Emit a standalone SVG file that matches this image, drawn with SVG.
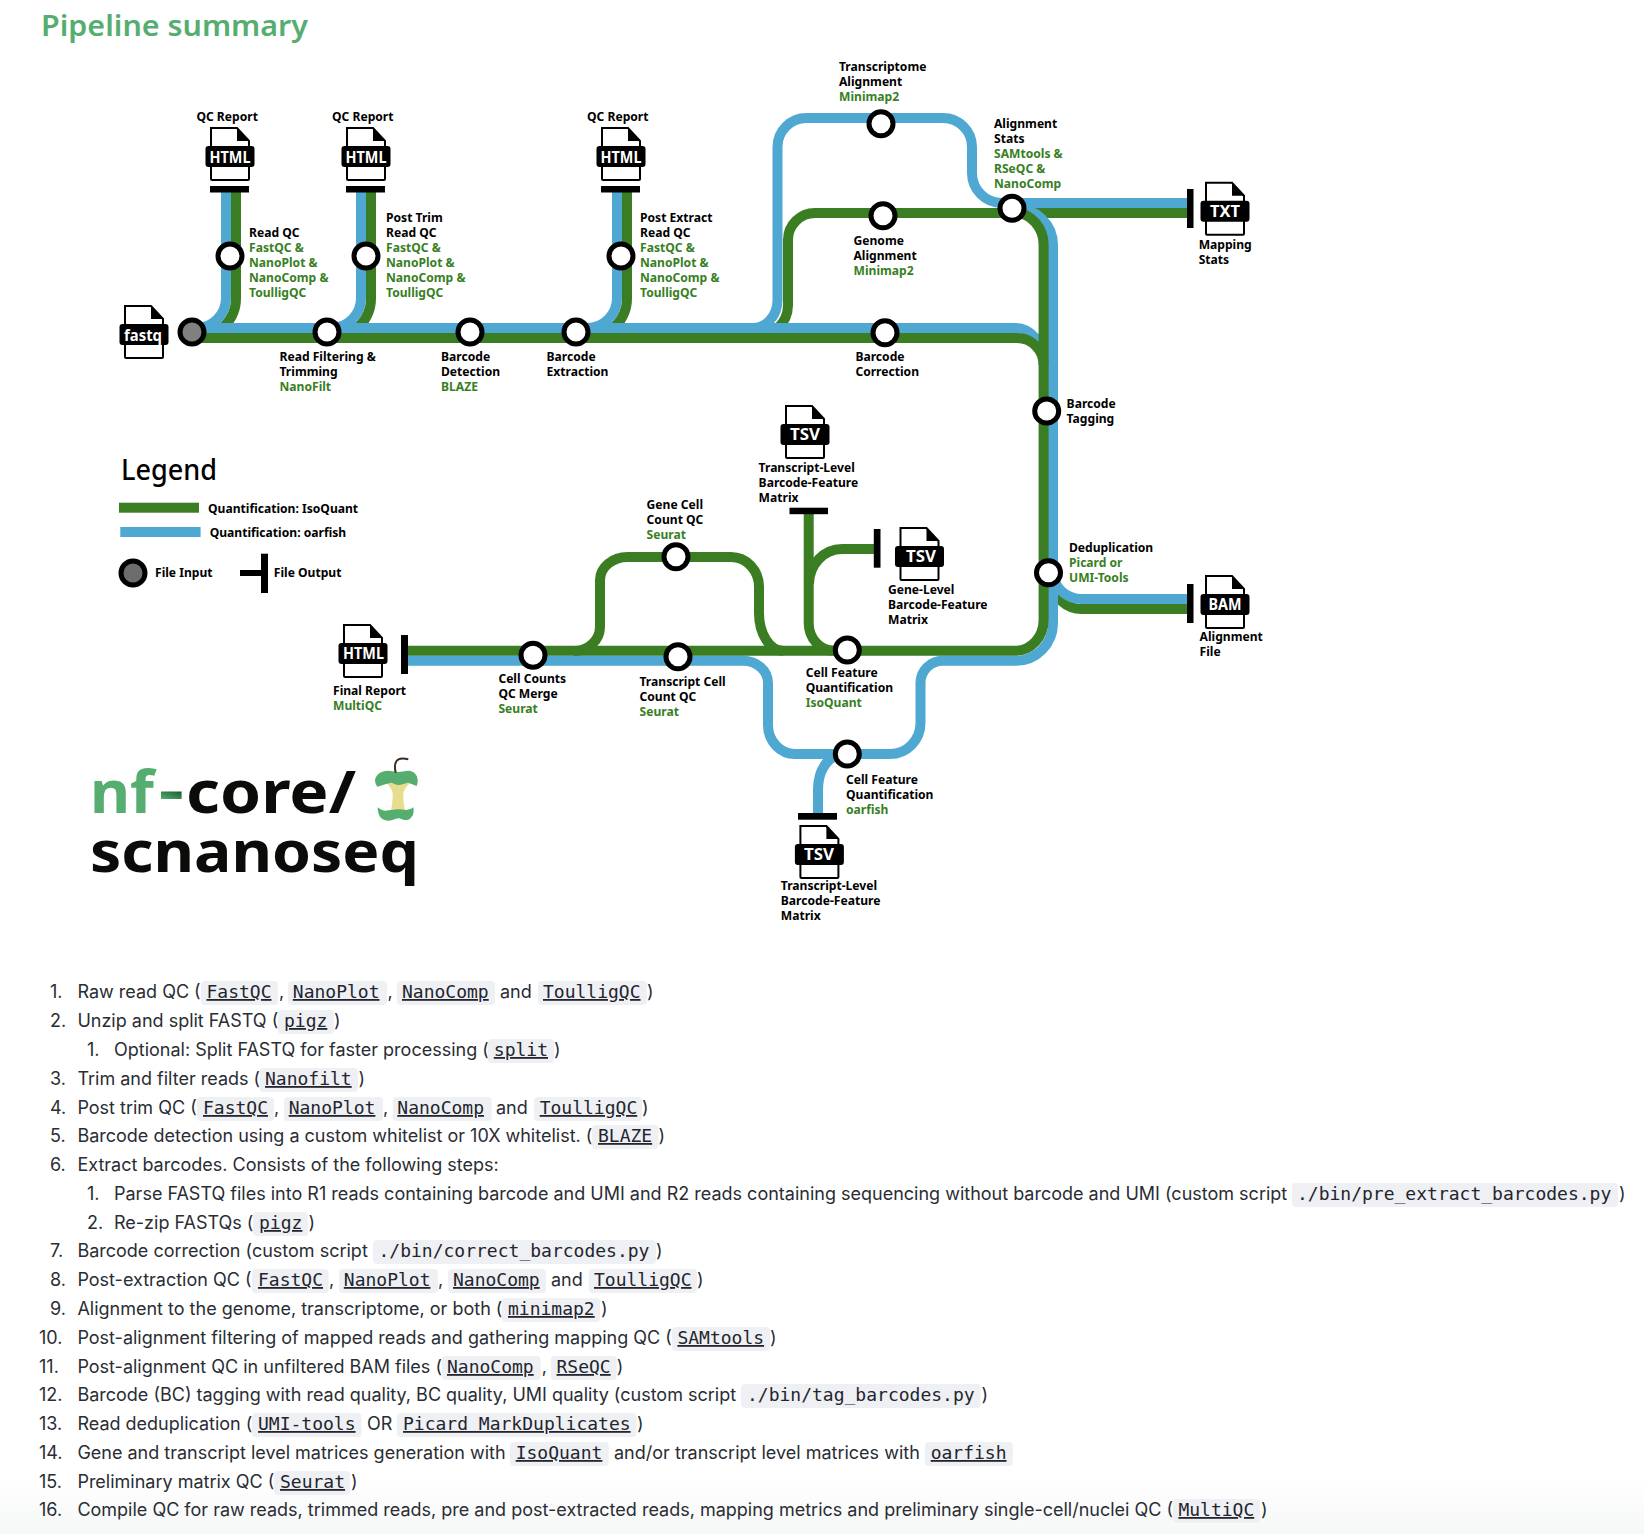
<svg xmlns="http://www.w3.org/2000/svg" width="1644" height="1534" viewBox="0 0 1644 1534">
<style>
text{font-family:"Noto Sans","DejaVu Sans",sans-serif}
.l{font-size:12.1px;font-weight:700;fill:#000}
.t{fill:#38801f}
.w{fill:none;stroke-width:10}
.gr{stroke:#3a7d22}
.bl{stroke:#4ea8d2}
.st{fill:#fff;stroke:#000;stroke-width:5}
.bar{fill:#000}
.ft{font-size:16px;font-weight:700;fill:#fff;text-anchor:middle}
.b{font-family:Inter,"Noto Sans",sans-serif;font-size:18px;fill:#2a2d34}
.c{font-family:"DejaVu Sans Mono",monospace;font-size:18px;fill:#23252d}
.u{text-decoration:underline;text-decoration-thickness:2px;text-underline-offset:3px}
.cb{fill:#eff0f4}
</style>
<defs>
<linearGradient id="fade" x1="0" y1="0" x2="0" y2="1"><stop offset="0" stop-color="#fff"/><stop offset="1" stop-color="#f6f7f7"/></linearGradient>
<linearGradient id="dash" x1="0" y1="1" x2="1" y2="0"><stop offset="0" stop-color="#55ae70"/><stop offset="1" stop-color="#1d5a30"/></linearGradient>
<g id="file">
<path d="M1 1H27L39 14V52a1 1 0 0 1-1 1H2a1 1 0 0 1-1-1Z" fill="#fff" stroke="#000" stroke-width="2"/>
<path d="M27 1L39 14H27Z" fill="#000"/>
<rect x="-4.500" y="19" width="49" height="21" rx="3" fill="#000"/>
</g>
</defs>
<rect width="1644" height="1534" fill="#fff"/>
<rect y="1480" width="1644" height="54" fill="url(#fade)"/>
<text id="title" x="41" y="36" font-size="29" font-weight="600" fill="#55ae70" textLength="267" lengthAdjust="spacingAndGlyphs">Pipeline summary</text>

<g id="connectors">
<path class="w gr" d="M236 190V298A40 40 0 0 1 196 338"/>
<path class="w gr" d="M371 190V298A40 40 0 0 1 331 338"/>
<path class="w gr" d="M627 190V298A40 40 0 0 1 587 338"/>
<path class="w gr" d="M788 305A35 33 0 0 1 753 338"/>
<path class="w gr" d="M788 305V240A27 27 0 0 1 815 213H1190"/>
<path class="w bl" d="M226 190V298A30 30 0 0 1 196 328"/>
<path class="w bl" d="M361 190V298A30 30 0 0 1 331 328"/>
<path class="w bl" d="M617 190V298A30 30 0 0 1 587 328"/>
<path class="w bl" d="M753 328A24.500 28 0 0 0 777.500 300V147A29 29 0 0 1 806.500 118H943A29 29 0 0 1 972 147V173A30 30 0 0 0 1002 203H1190"/>
<path class="w gr" d="M1053 582A29 27 0 0 0 1082 609H1190"/>
<path class="w bl" d="M1053 572A29 27 0 0 0 1082 599H1190"/>
<path class="w bl" d="M192 328H1015A28 32 0 0 1 1043 360"/>
<path class="w bl" d="M1015 208A38 37 0 0 1 1053 245V623A37 37.700 0 0 1 1016 660.700H943A22.500 22.300 0 0 0 920.500 683V723A30.500 31 0 0 1 890 754H795A27 29 0 0 1 768 725V683A25 22.300 0 0 0 743 660.700H408"/>
<path class="w bl" d="M838 754Q818 764 818 790V815"/>
<path class="w gr" d="M192 338H1017A26.600 27 0 0 1 1043.600 365V620A27.600 30.700 0 0 1 1016 650.700H408"/>
<path class="w gr" d="M1015 213A28.600 32 0 0 1 1043.600 245V365"/>
<path class="w gr" d="M574 651A26 24.300 0 0 0 600 626.700V580A27.600 23 0 0 1 627.600 557H731A28 29.700 0 0 1 759 586.700V613A24 37.700 0 0 0 783 650.700"/>
<path class="w gr" d="M808.700 512V623A25.300 27.700 0 0 0 834 650.700"/>
<path class="w gr" d="M876 549H842A33 35 0 0 0 809 584"/>
<rect class="bar" x="210" y="186" width="39" height="6.500"/>
<rect class="bar" x="346" y="186" width="39" height="6.500"/>
<rect class="bar" x="601" y="186" width="39" height="6.500"/>
<rect class="bar" x="1187" y="189" width="6.500" height="39"/>
<rect class="bar" x="1187" y="584" width="6.500" height="39"/>
<rect class="bar" x="401" y="635" width="7" height="39"/>
<rect class="bar" x="789.500" y="507.700" width="38.500" height="6.500"/>
<rect class="bar" x="873.800" y="529" width="6.700" height="38.700"/>
<rect class="bar" x="798" y="813" width="39" height="6.700"/>
</g>

<g id="node-fastq"><use href="#file" x="124" y="305"/><text class="ft" x="143" y="340.500" textLength="38" lengthAdjust="spacingAndGlyphs">fastq</text><circle cx="192" cy="332" r="12" fill="#808080" stroke="#000" stroke-width="5"/></g>
<g id="node-readfilter"><circle class="st" cx="327" cy="332" r="12"/><text class="l" x="279.500" y="361.300">Read Filtering &amp;<tspan x="279.500" dy="15">Trimming</tspan><tspan class="t" x="279.500" dy="15">NanoFilt</tspan></text></g>
<g id="node-barcode-detection"><circle class="st" cx="470" cy="332" r="12"/><text class="l" x="441" y="361.300">Barcode<tspan x="441" dy="15">Detection</tspan><tspan class="t" x="441" dy="15">BLAZE</tspan></text></g>
<g id="node-barcode-extraction"><circle class="st" cx="576" cy="332" r="12"/><text class="l" x="546.500" y="361.300">Barcode<tspan x="546.500" dy="15">Extraction</tspan></text></g>
<g id="node-read-qc"><circle class="st" cx="230" cy="256" r="12"/><text class="l" x="249" y="237.300">Read QC<tspan class="t" x="249" dy="15">FastQC &amp;</tspan><tspan class="t" x="249" dy="15">NanoPlot &amp;</tspan><tspan class="t" x="249" dy="15">NanoComp &amp;</tspan><tspan class="t" x="249" dy="15">ToulligQC</tspan></text></g>
<g id="node-post-trim-qc"><circle class="st" cx="366" cy="256" r="12"/><text class="l" x="386" y="222.300">Post Trim<tspan x="386" dy="15">Read QC</tspan><tspan class="t" x="386" dy="15">FastQC &amp;</tspan><tspan class="t" x="386" dy="15">NanoPlot &amp;</tspan><tspan class="t" x="386" dy="15">NanoComp &amp;</tspan><tspan class="t" x="386" dy="15">ToulligQC</tspan></text></g>
<g id="node-post-extract-qc"><circle class="st" cx="621" cy="256" r="12"/><text class="l" x="640" y="222.300">Post Extract<tspan x="640" dy="15">Read QC</tspan><tspan class="t" x="640" dy="15">FastQC &amp;</tspan><tspan class="t" x="640" dy="15">NanoPlot &amp;</tspan><tspan class="t" x="640" dy="15">NanoComp &amp;</tspan><tspan class="t" x="640" dy="15">ToulligQC</tspan></text></g>
<g id="output-qc1"><text class="l" x="196.400" y="121.200">QC Report</text><use href="#file" x="210" y="127"/><text class="ft" x="230" y="162.500" textLength="41" lengthAdjust="spacingAndGlyphs">HTML</text></g>
<g id="output-qc2"><text class="l" x="332" y="121.200">QC Report</text><use href="#file" x="346" y="127"/><text class="ft" x="366" y="162.500" textLength="41" lengthAdjust="spacingAndGlyphs">HTML</text></g>
<g id="output-qc3"><text class="l" x="587" y="121.200">QC Report</text><use href="#file" x="601" y="127"/><text class="ft" x="621" y="162.500" textLength="41" lengthAdjust="spacingAndGlyphs">HTML</text></g>
<g id="node-transcriptome"><circle class="st" cx="881" cy="123.700" r="12"/><text class="l" x="839" y="70.700">Transcriptome<tspan x="839" dy="15">Alignment</tspan><tspan class="t" x="839" dy="15">Minimap2</tspan></text></g>
<g id="node-genome"><circle class="st" cx="883" cy="215.700" r="12"/><text class="l" x="853.500" y="244.700">Genome<tspan x="853.500" dy="15">Alignment</tspan><tspan class="t" x="853.500" dy="15">Minimap2</tspan></text></g>
<g id="node-alignment-stats"><circle class="st" cx="1012" cy="208.300" r="12"/><text class="l" x="994" y="128.300">Alignment<tspan x="994" dy="15">Stats</tspan><tspan class="t" x="994" dy="15">SAMtools &amp;</tspan><tspan class="t" x="994" dy="15">RSeQC &amp;</tspan><tspan class="t" x="994" dy="15">NanoComp</tspan></text></g>
<g id="output-txt"><use href="#file" x="1205" y="181.700"/><text class="ft" x="1225" y="216.700" textLength="30" lengthAdjust="spacingAndGlyphs">TXT</text><text class="l" x="1198.700" y="248.700">Mapping<tspan x="1198.700" dy="15">Stats</tspan></text></g>
<g id="node-barcode-correction"><circle class="st" cx="885" cy="332.700" r="12"/><text class="l" x="855.400" y="361.300">Barcode<tspan x="855.400" dy="15">Correction</tspan></text></g>
<g id="node-barcode-tagging"><circle class="st" cx="1046.700" cy="411" r="12"/><text class="l" x="1066.600" y="407.700">Barcode<tspan x="1066.600" dy="15">Tagging</tspan></text></g>
<g id="node-dedup"><circle class="st" cx="1048.500" cy="572.700" r="12"/><text class="l" x="1069" y="552">Deduplication<tspan class="t" x="1069" dy="15">Picard or</tspan><tspan class="t" x="1069" dy="15">UMI-Tools</tspan></text></g>
<g id="output-bam"><use href="#file" x="1205" y="575"/><text class="ft" x="1225" y="610" textLength="33" lengthAdjust="spacingAndGlyphs">BAM</text><text class="l" x="1199.600" y="641">Alignment<tspan x="1199.600" dy="15">File</tspan></text></g>
<g id="output-tsv-transcript"><use href="#file" x="785" y="405"/><text class="ft" x="805" y="440" textLength="30" lengthAdjust="spacingAndGlyphs">TSV</text><text class="l" x="758.600" y="471.700">Transcript-Level<tspan x="758.600" dy="15">Barcode-Feature</tspan><tspan x="758.600" dy="15">Matrix</tspan></text></g>
<g id="output-tsv-gene"><use href="#file" x="899.500" y="527"/><text class="ft" x="921" y="562" textLength="30" lengthAdjust="spacingAndGlyphs">TSV</text><text class="l" x="888" y="594.300">Gene-Level<tspan x="888" dy="15">Barcode-Feature</tspan><tspan x="888" dy="15">Matrix</tspan></text></g>
<g id="node-isoquant"><circle class="st" cx="847.300" cy="650" r="12"/><text class="l" x="805.700" y="677.300">Cell Feature<tspan x="805.700" dy="15">Quantification</tspan><tspan class="t" x="805.700" dy="15">IsoQuant</tspan></text></g>
<g id="node-oarfish"><circle class="st" cx="847.300" cy="754" r="12"/><text class="l" x="846" y="783.700">Cell Feature<tspan x="846" dy="15">Quantification</tspan><tspan class="t" x="846" dy="15">oarfish</tspan></text></g>
<g id="output-tsv-oarfish"><use href="#file" x="799.400" y="825"/><text class="ft" x="819" y="859.500" textLength="30" lengthAdjust="spacingAndGlyphs">TSV</text><text class="l" x="780.800" y="890.300">Transcript-Level<tspan x="780.800" dy="15">Barcode-Feature</tspan><tspan x="780.800" dy="15">Matrix</tspan></text></g>
<g id="node-gene-cell-qc"><circle class="st" cx="676" cy="556.700" r="12"/><text class="l" x="646.600" y="508.700">Gene Cell<tspan x="646.600" dy="15">Count QC</tspan><tspan class="t" x="646.600" dy="15">Seurat</tspan></text></g>
<g id="node-transcript-cell-qc"><circle class="st" cx="678" cy="656.700" r="12"/><text class="l" x="639.500" y="686.300">Transcript Cell<tspan x="639.500" dy="15">Count QC</tspan><tspan class="t" x="639.500" dy="15">Seurat</tspan></text></g>
<g id="node-cell-counts"><circle class="st" cx="533" cy="655.300" r="12"/><text class="l" x="498.400" y="682.700">Cell Counts<tspan x="498.400" dy="15">QC Merge</tspan><tspan class="t" x="498.400" dy="15">Seurat</tspan></text></g>
<g id="output-final"><use href="#file" x="343" y="624"/><text class="ft" x="363.500" y="658.800" textLength="41" lengthAdjust="spacingAndGlyphs">HTML</text><text class="l" x="333" y="695.300">Final Report<tspan class="t" x="333" dy="15">MultiQC</tspan></text></g>

<g id="legend">
<text x="121" y="479.800" font-size="29" font-weight="500" textLength="96" lengthAdjust="spacingAndGlyphs">Legend</text>
<rect x="119" y="502.700" width="80" height="10" fill="#3a7d22"/>
<rect x="120.300" y="527" width="80.300" height="10" fill="#4ea8d2"/>
<text class="l" x="208" y="512.700">Quantification: IsoQuant</text>
<text class="l" x="209.700" y="536.700">Quantification: oarfish</text>
<circle cx="133" cy="573" r="12" fill="#6d6d6d" stroke="#000" stroke-width="5"/>
<text class="l" x="155" y="577.300">File Input</text>
<rect x="240" y="570" width="24" height="6" fill="#000"/>
<rect x="261" y="553.700" width="7" height="39.300" fill="#000"/>
<text class="l" x="273.800" y="577.300">File Output</text>
</g>

<g id="logo">
<text x="90" y="813" font-size="60" font-weight="700" fill="#55ae70" textLength="64" lengthAdjust="spacingAndGlyphs">nf</text>
<rect x="161" y="791.500" width="20.600" height="7.500" fill="url(#dash)"/>
<text x="186" y="813" font-size="60" font-weight="700" fill="#0b0b09" textLength="170" lengthAdjust="spacingAndGlyphs">core/</text>
<text x="90" y="871.700" font-size="57" font-weight="700" fill="#0b0b09" textLength="329" lengthAdjust="spacingAndGlyphs">scnanoseq</text>
<path d="M386.700 783H410C405 788 403.300 791 403.300 795C403.300 801 404 806 405 810H391C392 806 392.700 801 392.700 795C392.700 791 391 788 386.700 783Z" fill="#e8dd8f"/>
<path d="M375 780C376 774 382 770.500 388 770.700C392 770.800 395 772 398 772C402 772 405 770.500 409 770.700C414 771 417.500 775 417.700 780C417.800 782 417.500 784 416.700 786C414 785 412 784 408.300 782.700C405 783 402 785 398.300 785C396 785 394 783.500 391.700 782.700C387 783 382 786 377.300 786.700C376 785 375 783 375 780Z" fill="#55ae70"/>
<path d="M377.700 807.300C380 809 382 810.700 385 810.700C388 810.700 390 810 391.700 810C394 809.600 396 809.300 398.300 809.300C401 809.300 403 810 405 810C408 810 411 809 413.300 807.300C414 811 413.500 813 413 815C411 818 409 820 406.700 820C403 820.500 401 818.300 398.300 818.300C395 818.300 392 821 388.300 820.700C384 820.500 381 818 380 816.700C378.500 814 377.500 811 377.700 807.300Z" fill="#55ae70"/>
<path d="M395.700 772.700C394.600 768 394.400 765 396 762C397.500 759 402 757.800 408.300 759.300" fill="none" stroke="#3d2b20" stroke-width="2"/>
</g>

<g id="steps">
<text class="b" x="50" y="998">1.</text><text class="b" x="77.400" y="998">Raw read QC (</text><rect class="cb" x="201" y="981" width="77" height="24" rx="4"/><text class="c u" x="206.500" y="998">FastQC</text><text class="b" x="279" y="998">,</text><rect class="cb" x="288" y="981" width="99" height="24" rx="4"/><text class="c u" x="292.800" y="998">NanoPlot</text><text class="b" x="387.600" y="998">,</text><rect class="cb" x="397" y="981" width="98" height="24" rx="4"/><text class="c u" x="402" y="998">NanoComp</text><text class="b" x="500" y="998">and</text><rect class="cb" x="538" y="981" width="109" height="24" rx="4"/><text class="c u" x="543" y="998">ToulligQC</text><text class="b" x="647" y="998">)</text>
<text class="b" x="50" y="1027">2.</text><text class="b" x="77.400" y="1027">Unzip and split FASTQ (</text><rect class="cb" x="278" y="1010" width="56" height="24" rx="4"/><text class="c u" x="284" y="1027">pigz</text><text class="b" x="334" y="1027">)</text>
<text class="b" x="87" y="1056">1.</text><text class="b" x="114" y="1056">Optional: Split FASTQ for faster processing (</text><rect class="cb" x="487.700" y="1039" width="66.300" height="24" rx="4"/><text class="c u" x="493.800" y="1056">split</text><text class="b" x="554" y="1056">)</text>
<text class="b" x="50" y="1085">3.</text><text class="b" x="77.400" y="1085">Trim and filter reads (</text><rect class="cb" x="259.600" y="1068" width="98.400" height="24" rx="4"/><text class="c u" x="265" y="1085">Nanofilt</text><text class="b" x="358.600" y="1085">)</text>
<text class="b" x="50" y="1114">4.</text><text class="b" x="77.400" y="1114">Post trim QC (</text><rect class="cb" x="197" y="1097" width="77" height="24" rx="4"/><text class="c u" x="203" y="1114">FastQC</text><text class="b" x="274" y="1114">,</text><rect class="cb" x="284" y="1097" width="99" height="24" rx="4"/><text class="c u" x="288.700" y="1114">NanoPlot</text><text class="b" x="383" y="1114">,</text><rect class="cb" x="392.800" y="1097" width="98.900" height="24" rx="4"/><text class="c u" x="397.300" y="1114">NanoComp</text><text class="b" x="496" y="1114">and</text><rect class="cb" x="534" y="1097" width="108" height="24" rx="4"/><text class="c u" x="539.700" y="1114">ToulligQC</text><text class="b" x="642" y="1114">)</text>
<text class="b" x="50" y="1142">5.</text><text class="b" x="77.400" y="1142">Barcode detection using a custom whitelist or 10X whitelist. (</text><rect class="cb" x="592" y="1125" width="66.600" height="24" rx="4"/><text class="c u" x="598" y="1142">BLAZE</text><text class="b" x="658.600" y="1142">)</text>
<text class="b" x="50" y="1171">6.</text><text class="b" x="77.400" y="1171">Extract barcodes. Consists of the following steps:</text>
<text class="b" x="87" y="1200">1.</text><text class="b" x="114" y="1200">Parse FASTQ files into R1 reads containing barcode and UMI and R2 reads containing sequencing without barcode and UMI (custom script</text><rect class="cb" x="1292" y="1183" width="326" height="24" rx="4"/><text class="c" x="1297" y="1200">./bin/pre_extract_barcodes.py</text><text class="b" x="1619" y="1200">)</text>
<text class="b" x="87" y="1229">2.</text><text class="b" x="114" y="1229">Re-zip FASTQs (</text><rect class="cb" x="253" y="1212" width="55" height="24" rx="4"/><text class="c u" x="259" y="1229">pigz</text><text class="b" x="308.600" y="1229">)</text>
<text class="b" x="50" y="1257">7.</text><text class="b" x="77.400" y="1257">Barcode correction (custom script</text><rect class="cb" x="373" y="1240" width="283" height="24" rx="4"/><text class="c" x="378.500" y="1257">./bin/correct_barcodes.py</text><text class="b" x="656" y="1257">)</text>
<text class="b" x="50" y="1286">8.</text><text class="b" x="77.400" y="1286">Post-extraction QC (</text><rect class="cb" x="252" y="1269" width="76.500" height="24" rx="4"/><text class="c u" x="258" y="1286">FastQC</text><text class="b" x="329" y="1286">,</text><rect class="cb" x="339" y="1269" width="99" height="24" rx="4"/><text class="c u" x="343.800" y="1286">NanoPlot</text><text class="b" x="438" y="1286">,</text><rect class="cb" x="448" y="1269" width="98" height="24" rx="4"/><text class="c u" x="453" y="1286">NanoComp</text><text class="b" x="551" y="1286">and</text><rect class="cb" x="588.700" y="1269" width="108.300" height="24" rx="4"/><text class="c u" x="594" y="1286">ToulligQC</text><text class="b" x="697" y="1286">)</text>
<text class="b" x="50" y="1315">9.</text><text class="b" x="77.400" y="1315">Alignment to the genome, transcriptome, or both (</text><rect class="cb" x="502" y="1298" width="98" height="24" rx="4"/><text class="c u" x="508" y="1315">minimap2</text><text class="b" x="601" y="1315">)</text>
<text class="b" x="39" y="1344">10.</text><text class="b" x="77.400" y="1344">Post-alignment filtering of mapped reads and gathering mapping QC (</text><rect class="cb" x="672" y="1327" width="98" height="24" rx="4"/><text class="c u" x="677.400" y="1344">SAMtools</text><text class="b" x="770" y="1344">)</text>
<text class="b" x="39" y="1373">11.</text><text class="b" x="77.400" y="1373">Post-alignment QC in unfiltered BAM files (</text><rect class="cb" x="441.700" y="1356" width="99" height="24" rx="4"/><text class="c u" x="447" y="1373">NanoComp</text><text class="b" x="541.700" y="1373">,</text><rect class="cb" x="551" y="1356" width="65.700" height="24" rx="4"/><text class="c u" x="556.500" y="1373">RSeQC</text><text class="b" x="616.700" y="1373">)</text>
<text class="b" x="39" y="1401">12.</text><text class="b" x="77.400" y="1401">Barcode (BC) tagging with read quality, BC quality, UMI quality (custom script</text><rect class="cb" x="741" y="1384" width="239.600" height="24" rx="4"/><text class="c" x="747" y="1401">./bin/tag_barcodes.py</text><text class="b" x="981.600" y="1401">)</text>
<text class="b" x="39" y="1430">13.</text><text class="b" x="77.400" y="1430">Read deduplication (</text><rect class="cb" x="252" y="1413" width="109.600" height="24" rx="4"/><text class="c u" x="258" y="1430">UMI-tools</text><text class="b" x="367" y="1430">OR</text><rect class="cb" x="397" y="1413" width="239.600" height="24" rx="4"/><text class="c u" x="403" y="1430">Picard MarkDuplicates</text><text class="b" x="637" y="1430">)</text>
<text class="b" x="39" y="1459">14.</text><text class="b" x="77.400" y="1459">Gene and transcript level matrices generation with</text><rect class="cb" x="510" y="1442" width="98.600" height="24" rx="4"/><text class="c u" x="515.700" y="1459">IsoQuant</text><text class="b" x="614" y="1459">and/or transcript level matrices with</text><rect class="cb" x="925" y="1442" width="87.800" height="24" rx="4"/><text class="c u" x="930.700" y="1459">oarfish</text>
<text class="b" x="39" y="1488">15.</text><text class="b" x="77.400" y="1488">Preliminary matrix QC (</text><rect class="cb" x="274" y="1471" width="76" height="24" rx="4"/><text class="c u" x="280" y="1488">Seurat</text><text class="b" x="351" y="1488">)</text>
<text class="b" x="39" y="1516">16.</text><text class="b" x="77.400" y="1516">Compile QC for raw reads, trimmed reads, pre and post-extracted reads, mapping metrics and preliminary single-cell/nuclei QC (</text><rect class="cb" x="1173" y="1499" width="87" height="24" rx="4"/><text class="c u" x="1178.400" y="1516">MultiQC</text><text class="b" x="1261" y="1516">)</text>
</g>
</svg>
